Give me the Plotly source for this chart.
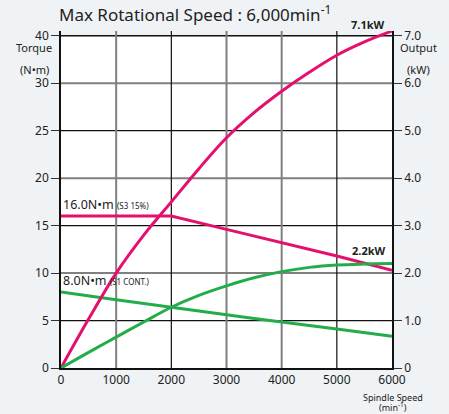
import plotly.graph_objects as go

# ---- data ----
speed_torque_s3 = [0, 2000, 3000, 4000, 5000, 6000]
torque_s3 = [16.0, 16.0, 14.6, 13.2, 11.8, 10.3]

speed_torque_s1 = [0, 1000, 2000, 3000, 4000, 5000, 6000]
torque_s1 = [8.0, 7.2, 6.4, 5.6, 4.85, 4.1, 3.35]

speed_output = [0, 500, 1000, 1500, 2000, 2500, 3000, 3500, 4000, 4500, 5000, 5500, 6000]
output_s3 = [0, 1.03, 2.0, 2.8, 3.5, 4.2, 4.85, 5.38, 5.83, 6.23, 6.59, 6.87, 7.1]
output_s1 = [0, 0.33, 0.65, 0.97, 1.28, 1.53, 1.73, 1.9, 2.03, 2.12, 2.17, 2.19, 2.2]

x_ticks = [0, 1000, 2000, 3000, 4000, 5000, 6000]
y_ticks = [0, 5, 10, 15, 20, 25, 30, 35]
y_ticktext = ["0", "5", "10", "15", "20", "25", "30", "40"]
y2_ticks = [0, 1, 2, 3, 4, 5, 6, 7]
y2_ticktext = ["0", "1.0", "2.0", "3.0", "4.0", "5.0", "6.0", "7.0"]

# grid styling (dark / light alternate as in source)
h_grid_frame = [35]
h_grid_dark = [25, 15, 5]
h_grid_light = [30, 20, 10]
v_grid_dark = [2000, 5000]
v_grid_light = [1000, 3000, 4000]

RED = "#e5106e"
GREEN = "#22ad4a"
FONT = "Noto Sans"
TXT = "#222222"

L, R, T, B = 61, 57, 31, 46
W, H = 449, 414
PW, PH = W - L - R, H - T - B


def px(x):
    return (x - L) / PW


def py(y):
    return (H - B - y) / PH


fig = go.Figure()
fig.add_trace(go.Scatter(x=speed_torque_s3, y=torque_s3, mode="lines",
                         line=dict(color=RED, width=3), yaxis="y"))
fig.add_trace(go.Scatter(x=speed_torque_s1, y=torque_s1, mode="lines",
                         line=dict(color=GREEN, width=3, shape="spline", smoothing=0.3), yaxis="y"))
fig.add_trace(go.Scatter(x=speed_output, y=output_s3, mode="lines",
                         line=dict(color=RED, width=3, shape="spline"), yaxis="y2"))
fig.add_trace(go.Scatter(x=speed_output, y=output_s1, mode="lines",
                         line=dict(color=GREEN, width=3, shape="spline"), yaxis="y2"))

shapes = []
for v in h_grid_frame:
    shapes.append(dict(type="line", xref="paper", x0=0, x1=1, yref="y", y0=v, y1=v,
                       line=dict(color="#111111", width=1.5), layer="below"))
for v in h_grid_dark:
    shapes.append(dict(type="line", xref="paper", x0=0, x1=1, yref="y", y0=v, y1=v,
                       line=dict(color="#111111", width=1.2), layer="below"))
for v in h_grid_light:
    shapes.append(dict(type="line", xref="paper", x0=0, x1=1, yref="y", y0=v, y1=v,
                       line=dict(color="#808080", width=2), layer="below"))
for v in v_grid_dark:
    shapes.append(dict(type="line", yref="paper", y0=0, y1=1, xref="x", x0=v, x1=v,
                       line=dict(color="#111111", width=1.2), layer="below"))
for v in v_grid_light:
    shapes.append(dict(type="line", yref="paper", y0=0, y1=1, xref="x", x0=v, x1=v,
                       line=dict(color="#808080", width=2), layer="below"))


def lab(text, x, y, size, xanchor="center"):
    return dict(text=text, xref="paper", yref="paper", x=px(x), y=py(y), xanchor=xanchor,
                yanchor="middle", showarrow=False,
                font=dict(size=size, color=TXT, family=FONT))


annotations = [
    lab("Max Rotational Speed : 6,000min<sup>-1</sup>", 57, 14, 17, "left"),
    lab("Torque", 34, 48, 11),
    lab("(N•m)", 34, 69, 11),
    lab("Output", 418, 48, 11),
    lab("(kW)", 418, 69, 11),
    lab("Spindle Speed", 393, 397, 9),
    lab("(min<sup>-1</sup>)", 393, 407, 9),
    lab("<b>7.1kW</b>", 367, 24, 11),
    lab("<b>2.2kW</b>", 368, 250, 11),
    dict(text="16.0N•m <span style='font-size:8px'>(S3 15%)</span>", xref="x", yref="y",
         x=0, y=16.0, xanchor="left", yanchor="bottom", yshift=1, showarrow=False,
         font=dict(size=12.5, color=TXT, family=FONT)),
    dict(text="8.0N•m <span style='font-size:8px'>(S1 CONT.)</span>", xref="x", yref="y",
         x=0, y=8.0, xanchor="left", yanchor="bottom", yshift=1, showarrow=False,
         font=dict(size=12.5, color=TXT, family=FONT)),
]

fig.update_layout(
    width=W, height=H,
    margin=dict(l=L, r=R, t=T, b=B),
    paper_bgcolor="#eff3f5",
    plot_bgcolor="rgba(0,0,0,0)",
    showlegend=False,
    font=dict(family=FONT, color=TXT, size=12),
    shapes=[dict(type="rect", xref="paper", yref="y", x0=0, x1=1, y0=0, y1=35,
                 fillcolor="#ffffff", line=dict(width=0), layer="below")] + shapes,
    annotations=annotations,
    xaxis=dict(range=[0, 6000], tickvals=x_ticks, showgrid=False, zeroline=False,
               showline=True, mirror=False, linecolor="#111111", linewidth=1.5,
               ticks="", tickfont=dict(size=12, color=TXT)),
    yaxis=dict(range=[0, 35.5], tickvals=y_ticks, ticktext=y_ticktext, showgrid=False,
               zeroline=False, showline=True, linecolor="#111111", linewidth=1.5,
               ticks="outside", ticklen=8, tickcolor="#333333", tickwidth=1,
               tickfont=dict(size=12, color=TXT)),
    yaxis2=dict(range=[0, 7.1], tickvals=y2_ticks, ticktext=y2_ticktext, overlaying="y",
                side="right", showgrid=False, zeroline=False, showline=True,
                linecolor="#111111", linewidth=1.5, ticks="outside", ticklen=8,
                tickcolor="#333333", tickwidth=1, tickfont=dict(size=12, color=TXT)),
)

fig.write_html("out.html")
